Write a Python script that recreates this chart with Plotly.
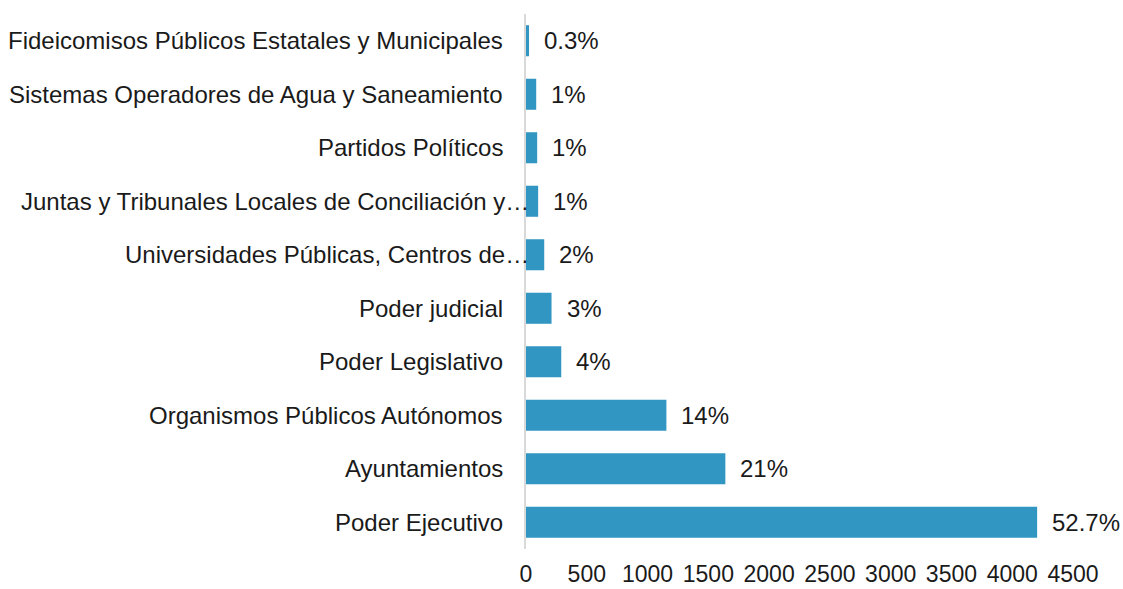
import plotly.graph_objects as go

categories = [
    "Poder Ejecutivo",
    "Ayuntamientos",
    "Organismos Públicos Autónomos",
    "Poder Legislativo",
    "Poder judicial",
    "Universidades Públicas, Centros de…",
    "Juntas y Tribunales Locales de Conciliación y…",
    "Partidos Políticos",
    "Sistemas Operadores de Agua y Saneamiento",
    "Fideicomisos Públicos Estatales y Municipales",
]
values = [4205, 1640, 1155, 290, 210, 150, 100, 92, 84, 25]
pct_labels = ["52.7%", "21%", "14%", "4%", "3%", "2%", "1%", "1%", "1%", "0.3%"]
x_ticks = [0, 500, 1000, 1500, 2000, 2500, 3000, 3500, 4000, 4500]

FONT = "Liberation Sans"
FS = 24
TXT = "#1a1a1a"

fig = go.Figure()
fig.add_trace(go.Bar(
    y=categories,
    x=values,
    orientation="h",
    width=0.58,
    marker=dict(color="#3196c1", line=dict(width=0)),
    hoverinfo="skip",
))

# value labels
for c, v, t in zip(categories, values, pct_labels):
    fig.add_annotation(
        x=v, y=c, text=t, showarrow=False,
        xanchor="left", yanchor="middle", xshift=13,
        font=dict(family=FONT, size=FS, color=TXT),
    )

# category labels (truncated ones overhang toward the axis, as in the original)
for c in categories:
    fig.add_annotation(
        xref="paper", x=0, y=c, text=c, showarrow=False,
        xanchor="right", yanchor="middle",
        xshift=(5 if c.endswith("…") else -21),
        font=dict(family=FONT, size=FS, color=TXT),
    )

fig.update_layout(
    width=1123, height=589,
    margin=dict(l=526, r=50, t=14, b=40),
    paper_bgcolor="white", plot_bgcolor="white",
    showlegend=False,
    font=dict(family=FONT, size=FS, color=TXT),
    xaxis=dict(
        range=[0, 4500], tickvals=x_ticks, automargin=False,
        showgrid=False, zeroline=False, showline=False,
        ticks="", ticklabelstandoff=9,
        tickfont=dict(family=FONT, size=23, color=TXT),
    ),
    yaxis=dict(
        type="category", categoryorder="array", categoryarray=categories,
        automargin=False, showticklabels=False,
        showgrid=False, zeroline=False,
        showline=True, linecolor="#d9d9d9", linewidth=2,
        ticks="",
    ),
)

fig.write_html(
    "out.html",
    config={"displayModeBar": False},
    post_script="document.body.style.margin='0';document.body.style.overflow='hidden';",
)
